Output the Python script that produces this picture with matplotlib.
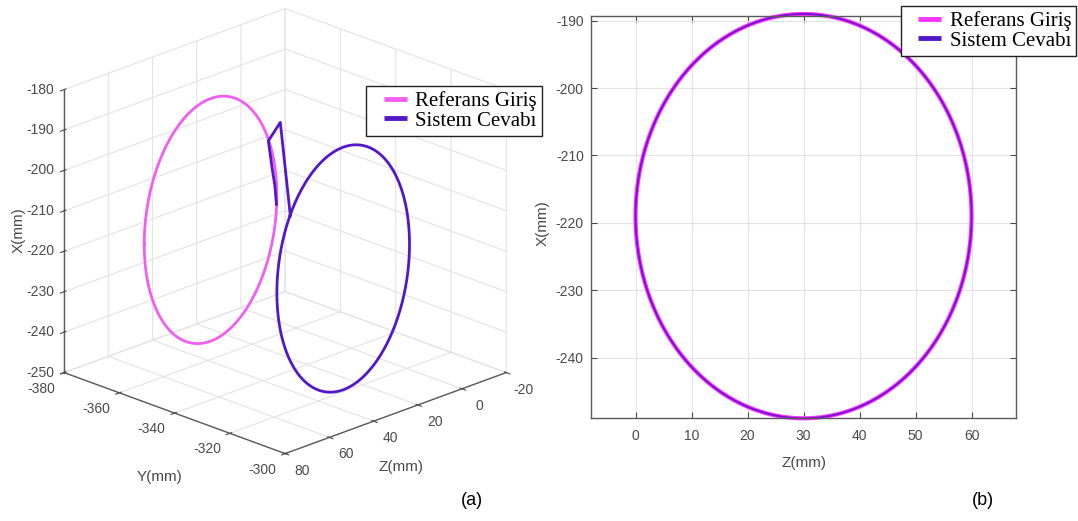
import numpy as np
import matplotlib
matplotlib.use("Agg")
import matplotlib.pyplot as plt
from matplotlib.transforms import ScaledTranslation
from matplotlib.legend_handler import HandlerLine2D
from matplotlib.lines import Line2D
from matplotlib.patches import Polygon
from mpl_toolkits.mplot3d import proj3d

plt.rcParams["font.family"] = "Liberation Sans"
plt.rcParams["axes.unicode_minus"] = False
plt.rcParams["grid.color"] = "#e3e3e3"
plt.rcParams["grid.linewidth"] = 0.8

# -----------------------------
# Data (mm)
# -----------------------------
# reference circle in the Z-X plane
circle_center_z = 30.0
circle_center_x = -219.0
circle_radius = 30.0
ref_y = -367.0          # Y plane of the reference circle (3D view)
sys_y = -319.0          # Y plane of the system response circle (3D view)

# start-up transient of the system response (Y, Z, X)
trans_y = [-363.0, -363.0, -363.0, -363.0, -360.0, -319.0]
trans_z = [5.2, 5.9, 7.2, 8.85, 7.2, 53.9]
trans_x = [-219.1, -214.4, -209.6, -202.7, -197.7, -201.2]

x_ticks = [-250, -240, -230, -220, -210, -200, -190, -180]
y_ticks = [-380, -360, -340, -320, -300]
z_ticks = [-20, 0, 20, 40, 60, 80]
b_x_ticks = [0, 10, 20, 30, 40, 50, 60]
b_y_ticks = [-240, -230, -220, -210, -200, -190]

labels = ["Referans Giriş", "Sistem Cevabı"]
ref_color = "#f25ef2"
sys_color = "#5316c9"
tick_color = "#4a4a4a"

# circle paths
t = np.linspace(0, 2 * np.pi, 400)
ref_z = circle_center_z + circle_radius * np.cos(t)
ref_x = circle_center_x + circle_radius * np.sin(t)

phi0 = np.arctan2(trans_x[-1] - circle_center_x, trans_z[-1] - circle_center_z)
ts = phi0 + t
sys_z = np.concatenate([trans_z, circle_center_z + circle_radius * np.cos(ts)])
sys_x = np.concatenate([trans_x, circle_center_x + circle_radius * np.sin(ts)])
sys_yy = np.concatenate([trans_y, np.full(ts.size, sys_y)])

fig = plt.figure(figsize=(10.78, 5.21), dpi=100)

leg_style = dict(prop={"family": "Liberation Serif", "size": 15}, frameon=True, fancybox=False,
                 edgecolor="#222222", handlelength=1.7, handletextpad=0.4, labelspacing=0.0,
                 borderpad=0.25, borderaxespad=0, framealpha=1,
                 handler_map={Line2D: HandlerLine2D(xpad=0.6)})


def legend_handles(c1, c2):
    return [Line2D([], [], color=c1, lw=3.5, solid_capstyle="butt"),
            Line2D([], [], color=c2, lw=3.5, solid_capstyle="butt")]


# -----------------------------
# (a) 3D view  (mpl x = Z, mpl y = Y, mpl z = X)
# -----------------------------
ax = fig.add_axes([-0.002, 0.043, 0.52, 1.0], projection="3d", proj_type="ortho")
ax.plot(ref_z, np.full(ref_z.size, ref_y), ref_x, color=ref_color, lw=2.0)
ax.plot(sys_z, sys_yy, sys_x, color=sys_color, lw=2.0)
ax.set_xlim(-20, 80)
ax.set_ylim(-380, -300)
ax.set_zlim(-250, -180)
ax.set_xticks(z_ticks)
ax.set_yticks(y_ticks)
ax.set_zticks(x_ticks)
ax.set_xticklabels([])
ax.set_yticklabels([])
ax.set_zticklabels([])
ax.set_box_aspect((1, 1, 0.973), zoom=1.0)
ax.view_init(elev=21.5, azim=45)
for axis in (ax.xaxis, ax.yaxis, ax.zaxis):
    axis.set_pane_color((1, 1, 1, 0))
    axis.pane.set_edgecolor("#d8d8d8")
    axis.line.set_color("#5a5a5a")
    axis.line.set_linewidth(1.0)
ax.tick_params(colors=tick_color)
ax.set_xlabel("")
ax.set_ylabel("")
ax.set_zlabel("")

# MATLAB-like tick labels: project the tick points once, then offset in pixels
fig.canvas.draw()


def put_label(x, y, z, s, dx, dy):
    px, py, _ = proj3d.proj_transform(x, y, z, ax.M)
    tr = ax.transData + ScaledTranslation(dx / 100, -dy / 100, fig.dpi_scale_trans)
    ax.text2D(px, py, s, transform=tr, ha="center", va="center", fontsize=10, color=tick_color)


for v in y_ticks:
    put_label(80, v, -250, str(v), -23, 16)
for v in z_ticks:
    put_label(v, -300, -250, str(v), 17, 17)
for v in x_ticks:
    put_label(80, -380, v, str(v), -24, 0)

fig.text(0.0176, 0.5585, "X(mm)", rotation=90, ha="center", va="center", fontsize=11, color=tick_color)
fig.text(0.1484, 0.0845, "Y(mm)", ha="center", va="center", fontsize=11, color=tick_color)
fig.text(0.372, 0.1036, "Z(mm)", ha="center", va="center", fontsize=11, color=tick_color)
fig.text(0.438, 0.04, "(a)", ha="center", va="center", fontsize=13)
ax.legend(legend_handles(ref_color, sys_color), labels, loc="upper left",
          bbox_to_anchor=(0.3395, 0.835), bbox_transform=fig.transFigure, **leg_style)

# -----------------------------
# (b) Z-X projection (closed outlines, no seam)
# -----------------------------
bx = fig.add_axes([0.548, 0.1971, 0.3948, 0.7722])
ring = np.c_[ref_z[:-1], ref_x[:-1]]
bx.add_patch(Polygon(ring, closed=True, fill=False, edgecolor="#ff33ff", lw=3.0, clip_on=False))
bx.add_patch(Polygon(ring, closed=True, fill=False, edgecolor="#7a12d2", lw=1.4, clip_on=False))
bx.set_xlim(-8, 68)
bx.set_ylim(-249, -189.3)
bx.set_xticks(b_x_ticks)
bx.set_yticks(b_y_ticks)
bx.grid(True, color="#e3e3e3", lw=0.8)
bx.set_axisbelow(True)
for s in bx.spines.values():
    s.set_color("#5a5a5a")
    s.set_linewidth(1.0)
bx.tick_params(colors=tick_color, labelsize=10, direction="in", length=4, top=True, right=True)
bx.tick_params(axis="x", pad=8)
bx.tick_params(axis="y", pad=5)
fig.text(0.7458, 0.1113, "Z(mm)", ha="center", va="center", fontsize=11, color=tick_color)
fig.text(0.503, 0.572, "X(mm)", rotation=90, ha="center", va="center", fontsize=11, color=tick_color)
fig.text(0.912, 0.04, "(b)", ha="center", va="center", fontsize=13)
bx.legend(legend_handles("#ff33ff", sys_color), labels, loc="upper right",
          bbox_to_anchor=(0.9985, 0.9885), bbox_transform=fig.transFigure, **leg_style)

fig.savefig("out.png", dpi=100)
